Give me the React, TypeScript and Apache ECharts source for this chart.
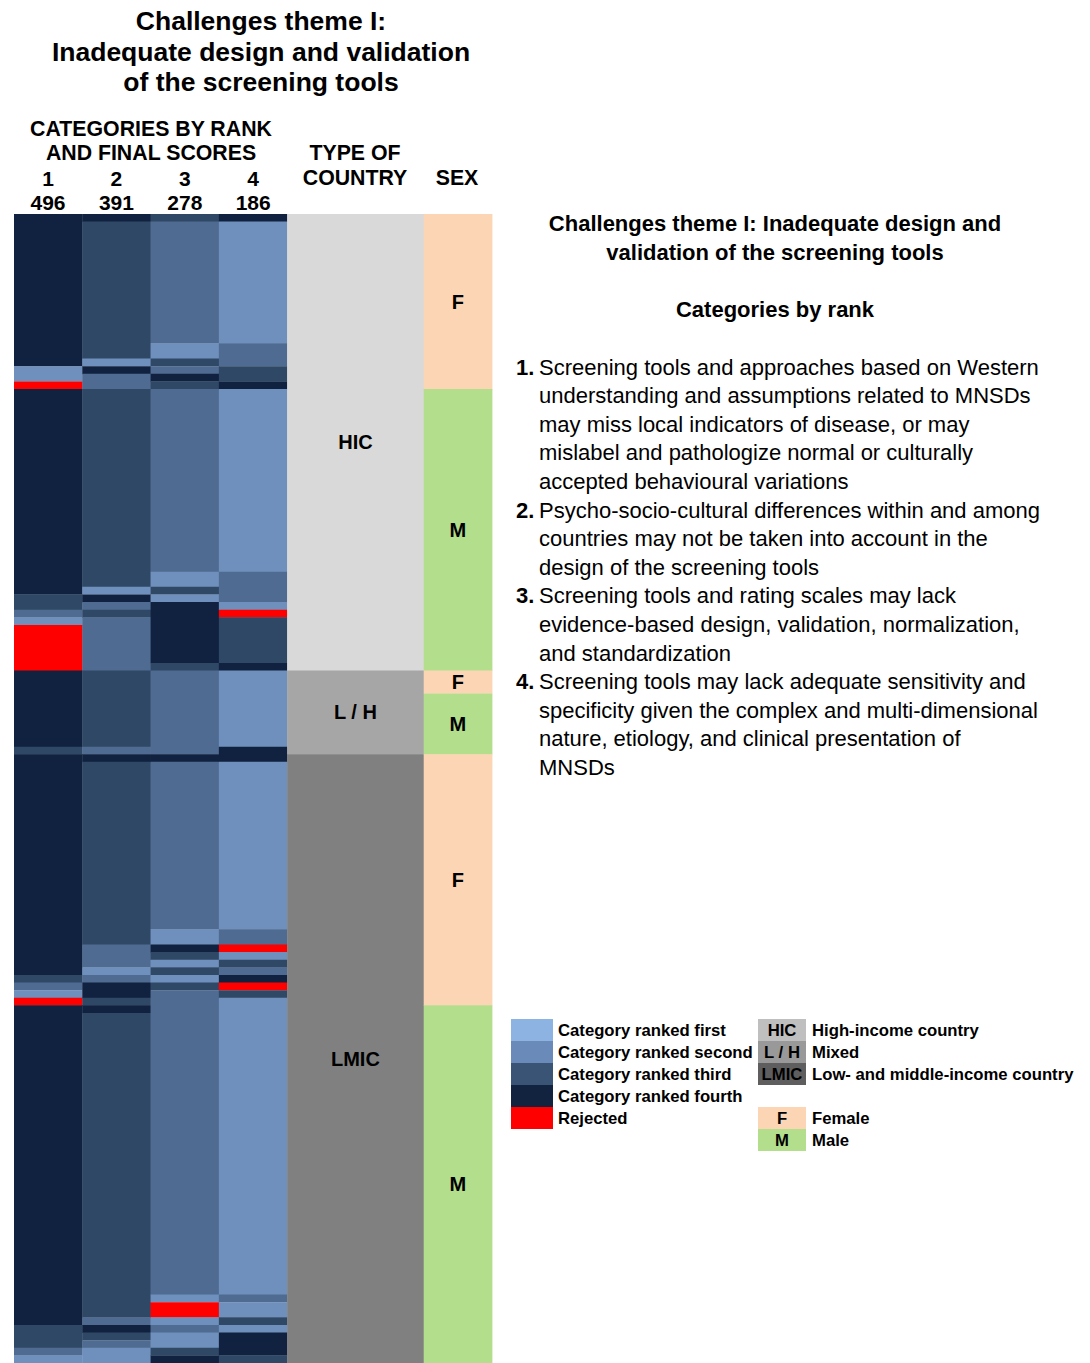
import React, { useEffect, useRef } from "react";
import * as echarts from "echarts";

// ---------------- DATA ----------------
const columnLabels = ["1", "2", "3", "4"];
const columnScores = ["496", "391", "278", "186"];

// Runs of [rank, number of participants]; rank 1..4, 0 = rejected
const col1Runs = [[4,20],[1,2],[0,1],[4,27],[3,2],[2,1],[1,1],[0,6],[4,10],[3,1],[4,29],[3,1],[2,1],[1,1],[0,1],[4,42],[3,3],[2,1],[1,1]];
const col2Runs = [[4,1],[3,18],[1,1],[4,1],[2,2],[3,26],[1,1],[4,1],[2,1],[3,1],[2,7],[3,10],[2,1],[4,1],[3,24],[2,3],[1,1],[2,1],[4,2],[3,1],[4,1],[3,40],[2,1],[4,1],[3,1],[2,1],[1,2]];
const col3Runs = [[3,1],[2,16],[1,2],[3,1],[2,1],[4,1],[3,1],[2,24],[1,2],[3,1],[1,1],[4,8],[3,1],[2,11],[4,1],[2,22],[1,2],[4,1],[3,1],[1,1],[3,1],[1,1],[3,1],[2,40],[1,1],[0,2],[1,1],[2,1],[1,2],[3,1],[4,1]];
const col4Runs = [[4,1],[1,16],[2,3],[3,2],[4,1],[1,24],[2,4],[1,1],[0,1],[3,6],[4,1],[1,10],[4,2],[1,22],[2,2],[0,1],[1,1],[3,1],[2,1],[4,1],[0,1],[3,1],[1,39],[2,1],[1,2],[3,1],[1,1],[4,3],[3,1]];

// Country groups: [label, firstRow, endRow)
const countryGroups = [["HIC", 0, 60], ["L / H", 60, 71], ["LMIC", 71, 151]];
// Sex groups
const sexGroups = [["F", 0, 23], ["M", 23, 60], ["F", 60, 63], ["M", 63, 71], ["F", 71, 104], ["M", 104, 151]];

const rankLegendLabels = ["Category ranked first", "Category ranked second", "Category ranked third", "Category ranked fourth", "Rejected"];
const countryLegend = [["HIC", "High-income country"], ["L / H", "Mixed"], ["LMIC", "Low- and middle-income country"]];
const sexLegend = [["F", "Female"], ["M", "Male"]];

const leftTitle = ["Challenges theme I:", "Inadequate design and validation", "of the screening tools"];
const rightTitle = ["Challenges theme I: Inadequate design and", "validation of the screening tools"];
const listItems = [
  ["Screening tools and approaches based on Western", "understanding and assumptions related to MNSDs", "may miss local indicators of disease, or may", "mislabel and pathologize normal or culturally", "accepted behavioural variations"],
  ["Psycho-socio-cultural differences within and among", "countries may not be taken into account in the", "design of the screening tools"],
  ["Screening tools and rating scales may lack", "evidence-based design, validation, normalization,", "and standardization"],
  ["Screening tools may lack adequate sensitivity and", "specificity given the complex and multi-dimensional", "nature, etiology, and clinical presentation of", "MNSDs"],
];

// ---------------- STYLES ----------------
const FONT = "'Liberation Sans', Arial, Helvetica, sans-serif";
const cellColors: Record<number, string> = { 4: "#10223F", 3: "#2F4866", 2: "#4F6B91", 1: "#6F90BC", 0: "#FF0000" };
const legendRankColors = ["#8DB3E2", "#6A8BB9", "#3A5476", "#11233F", "#FF0000"];
const countryColors: Record<string, string> = { "HIC": "#D9D9D9", "L / H": "#A6A6A6", "LMIC": "#808080" };
const countryLegendColors = ["#BFBFBF", "#999999", "#5E5E5E"];
const sexColors: Record<string, string> = { F: "#FCD5B5", M: "#B3DE8C" };

const ROW_H = 7.62;
const GRID_TOP = 214;
const TOTAL_ROWS = 151;

function txt(text: string, x: number, y: number, size: number, bold: boolean, align = "center") {
  return {
    type: "text",
    x, y,
    silent: true,
    style: { text, align, verticalAlign: "middle", fontSize: size, fontWeight: bold ? "bold" : "normal", fontFamily: FONT, fill: "#000" },
  };
}

export default function App() {
  const ref = useRef<HTMLDivElement>(null);
  useEffect(() => {
    if (!ref.current) return;
    const chart = echarts.init(ref.current, undefined, { renderer: "svg" });

    // each run becomes one cell block: [column, startRow, endRow, rank]
    const cells: number[][] = [];
    [col1Runs, col2Runs, col3Runs, col4Runs].forEach((runs, c) => {
      let r = 0;
      runs.forEach(([v, n]) => { cells.push([c, r, r + n, v]); r += n; });
    });

    const blocks: any[] = [];
    countryGroups.forEach(([label, s, e]) => blocks.push({ value: [4, 6, s, e], label, color: countryColors[label as string] }));
    sexGroups.forEach(([label, s, e]) => blocks.push({ value: [6, 7, s, e], label, color: sexColors[label as string] }));

    const graphics: any[] = [];
    leftTitle.forEach((t, i) => graphics.push(txt(t, 261, 21 + i * 30.5, 26.5, true)));
    graphics.push(txt("CATEGORIES BY RANK", 151, 129, 21.3, true));
    graphics.push(txt("AND FINAL SCORES", 151, 153, 21.3, true));
    columnLabels.forEach((t, i) => graphics.push(txt(t, 48 + i * 68.4, 178, 21, true)));
    columnScores.forEach((t, i) => graphics.push(txt(t, 48 + i * 68.4, 202, 21, true)));
    graphics.push(txt("TYPE OF", 355, 153, 21.3, true));
    graphics.push(txt("COUNTRY", 355, 178, 21.3, true));
    graphics.push(txt("SEX", 457, 178, 21.3, true));

    rightTitle.forEach((t, i) => graphics.push(txt(t, 775, 223 + i * 29, 22, true)));
    graphics.push(txt("Categories by rank", 775, 309, 22, true));
    let y = 367;
    listItems.forEach((lines, k) => {
      graphics.push(txt(`${k + 1}.`, 516, y, 22, true, "left"));
      lines.forEach((l) => { graphics.push(txt(l, 539, y, 22, false, "left")); y += 28.6; });
    });

    rankLegendLabels.forEach((t, i) => {
      graphics.push({ type: "rect", silent: true, shape: { x: 511, y: 1019 + i * 22, width: 42, height: 22 }, style: { fill: legendRankColors[i] } });
      graphics.push(txt(t, 558, 1030 + i * 22, 16.7, true, "left"));
    });
    countryLegend.forEach(([k, t], i) => {
      graphics.push({ type: "rect", silent: true, shape: { x: 758, y: 1019 + i * 22, width: 48, height: 22 }, style: { fill: countryLegendColors[i] } });
      graphics.push(txt(k, 782, 1030 + i * 22, 16.7, true));
      graphics.push(txt(t, 812, 1030 + i * 22, 16.7, true, "left"));
    });
    sexLegend.forEach(([k, t], i) => {
      graphics.push({ type: "rect", silent: true, shape: { x: 758, y: 1107 + i * 22, width: 48, height: 22 }, style: { fill: sexColors[k] } });
      graphics.push(txt(k, 782, 1118 + i * 22, 16.7, true));
      graphics.push(txt(t, 812, 1118 + i * 22, 16.7, true, "left"));
    });

    chart.setOption({
      animation: false,
      backgroundColor: "#ffffff",
      grid: { left: 14, top: GRID_TOP, width: 478, height: TOTAL_ROWS * ROW_H },
      xAxis: { type: "value", min: 0, max: 7, show: false },
      yAxis: { type: "value", min: 0, max: TOTAL_ROWS, inverse: true, show: false },
      series: [
        {
          type: "custom",
          silent: true,
          data: cells,
          renderItem: (params: any, api: any) => {
            const c = api.value(0), r0 = api.value(1), r1 = api.value(2), v = api.value(3);
            const p0 = api.coord([c, r0]);
            const p1 = api.coord([c + 1, r1]);
            return {
              type: "rect",
              shape: { x: p0[0], y: Math.min(p0[1], p1[1]), width: p1[0] - p0[0] + 0.4, height: Math.abs(p1[1] - p0[1]) + 0.4 },
              style: { fill: cellColors[v] },
            };
          },
        },
        {
          type: "custom",
          silent: true,
          data: blocks,
          renderItem: (params: any, api: any) => {
            const item = blocks[params.dataIndex];
            const p0 = api.coord([api.value(0), api.value(2)]);
            const p1 = api.coord([api.value(1), api.value(3)]);
            const x = p0[0], yy = Math.min(p0[1], p1[1]);
            const w = p1[0] - p0[0], h = Math.abs(p1[1] - p0[1]);
            return {
              type: "group",
              children: [
                { type: "rect", shape: { x, y: yy, width: w + 0.4, height: h + 0.4 }, style: { fill: item.color } },
                { type: "text", x: x + w / 2, y: yy + h / 2, style: { text: item.label, align: "center", verticalAlign: "middle", fontSize: 20, fontWeight: "bold", fontFamily: FONT, fill: "#000" } },
              ],
            };
          },
        },
      ],
      graphic: graphics,
    });
    return () => chart.dispose();
  }, []);
  return <div ref={ref} style={{ position: "absolute", left: 0, top: 0, width: 1090, height: 1363 }} />;
}
